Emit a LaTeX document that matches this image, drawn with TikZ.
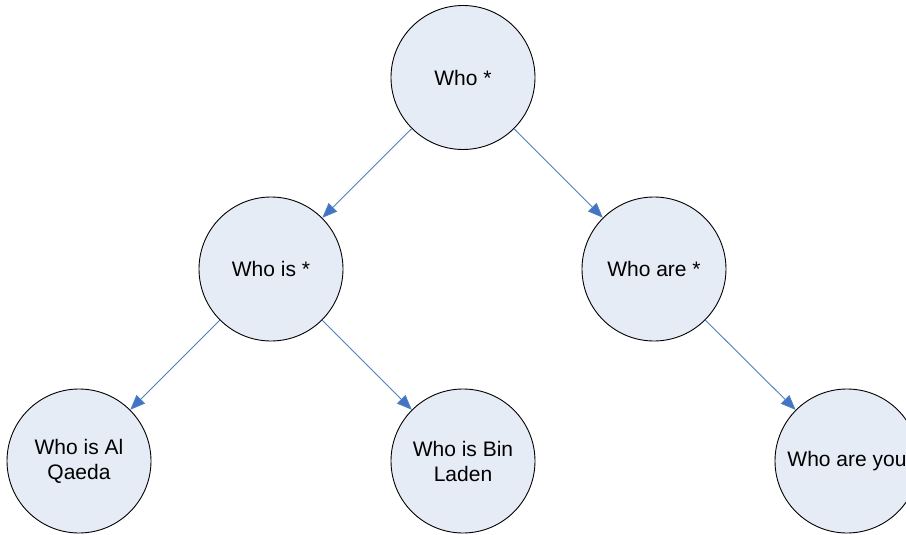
\documentclass[tikz,border=0pt]{standalone}
\usepackage{fontspec}
\setmainfont{Liberation Sans}
\usetikzlibrary{arrows.meta}
\definecolor{nodefill}{RGB}{230,236,246}
\definecolor{linkblue}{RGB}{79,129,189}
\definecolor{tipblue}{RGB}{68,114,196}
\tikzset{
  treenode/.style={circle, draw=black, line width=0.9pt, fill=nodefill, minimum size=144pt, inner sep=0pt, align=center, font=\fontsize{21}{25}\selectfont},
  link/.style={draw=linkblue, line width=0.9pt, -{Triangle[length=15pt,width=12pt,fill=tipblue]}}
}
\begin{document}
\begin{tikzpicture}[x=1pt,y=-1pt]
\useasboundingbox (0,0) rectangle (906,535);
\clip (0,0) rectangle (906,535);
\fill[white] (0,0) rectangle (906,535);
\node[treenode] (root) at (463,77.5) {Who *};
\node[treenode] (is) at (271,269) {Who is *};
\node[treenode] (are) at (654,269) {Who are *};
\node[treenode] (alq) at (79,461) {Who is Al\\Qaeda};
\node[treenode] (bin) at (463,461) {Who is Bin\\Laden};
\node[treenode] (you) at (847,461) {Who are you};
\draw[link] (root) -- (is);
\draw[link] (root) -- (are);
\draw[link] (is) -- (alq);
\draw[link] (is) -- (bin);
\draw[link] (are) -- (you);
\end{tikzpicture}
\end{document}
